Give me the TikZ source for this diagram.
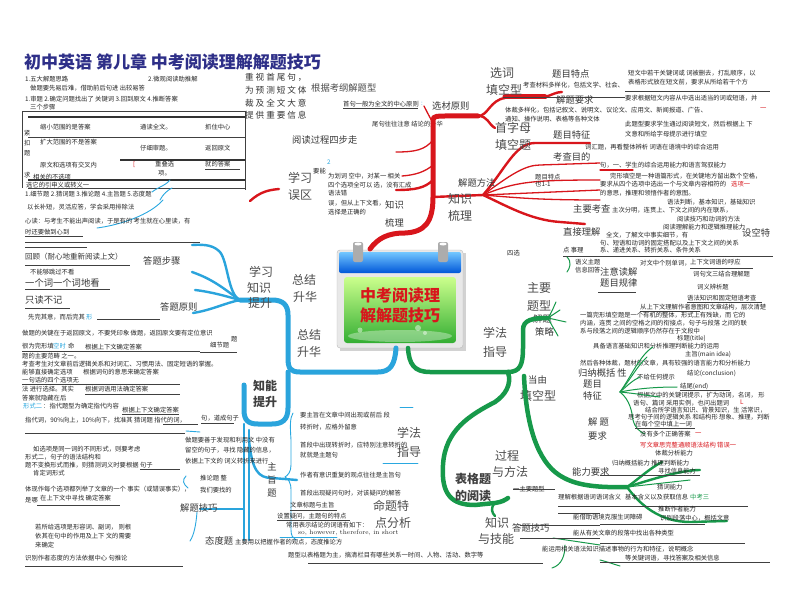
\documentclass[tikz,border=0pt]{standalone}
\usepackage{fontspec}
\newfontfamily\cjk{Noto Sans CJK SC}
\definecolor{redb}{HTML}{D8161C}
\definecolor{blueb}{HTML}{2AA4DC}
\definecolor{greenb}{HTML}{17994A}
\definecolor{navy}{HTML}{2E2F88}
\definecolor{cyant}{HTML}{2AA8E0}
\tikzset{
  every node/.style={inner sep=0pt, anchor=west},
  tx/.style={font=\cjk\fontsize{6.3}{7}\selectfont, text=black!85},
  md/.style={font=\cjk\fontsize{9.3}{11}\selectfont, text=black!78},
  lg/.style={font=\cjk\fontsize{12}{14}\selectfont, text=black!70},
  ul/.style={draw=black!75, line width=0.9pt},
  ulthick/.style={draw=black!80, line width=1.4pt},
  redtrunk/.style={draw=redb, line width=5pt, line cap=round},
  redbr/.style={draw=redb, line width=2.4pt, line cap=round},
  redthin/.style={draw=redb, line width=1.3pt, line cap=round},
  bluetrunk/.style={draw=blueb, line width=5pt, line cap=round},
  bluebr/.style={draw=blueb, line width=2.4pt, line cap=round},
  bluethin/.style={draw=cyant, line width=0.9pt, line cap=round},
  greentrunk/.style={draw=greenb, line width=4.5pt, line cap=round},
  greenbr/.style={draw=greenb, line width=2.4pt, line cap=round},
  greenthin/.style={draw=greenb, line width=1pt, line cap=round},
}
\begin{document}
\begin{tikzpicture}[x=1pt,y=-1pt]
\useasboundingbox (0,0) rectangle (800,596);
\fill[white] (0,0) rectangle (800,596);

% ---------------- title
\node[font=\cjk\bfseries\fontsize{17}{19}\selectfont, text=navy] (title) at (24,62) {初中英语 第儿章 中考阅读理解解题技巧};

% ---------------- top-left block
\node[tx] (a1) at (25,79) {1.五大解题思路};
\node[tx] (a2) at (148,79) {2.微观阅读助推解};
\node[tx] (a3) at (30,88) {做题要先易后难，借助前后句进 出较易答};
\node[tx] (a4) at (25,99) {1.审题 2.确定问题找出了 关键词 3.回到原文 4.推断答案};
\node[tx] (a5) at (30,107) {三个步骤};
\draw[ul] (22,111) -- (245,111);
\draw[ulthick] (28,117) -- (245,117);
\draw[ul] (28,137) -- (245,137);
\draw[ulthick] (120,160) -- (245,160);
\draw[ulthick] (28,180) -- (245,180);
\draw[ul] (28,188) -- (245,188);
\draw[ul] (22,111) -- (22,188);
\draw[ul] (245,111) -- (245,190);
\node[tx] (b1) at (40,127) {缩小范围的是答案};
\node[tx] (b2) at (140,127) {通读全文。};
\node[tx] (b3) at (205,127) {抓住中心};
\node[tx] (b4) at (40,142) {扩大范围的不是答案};
\node[tx] (b5) at (140,148) {仔细审题。};
\node[tx] (b6) at (205,148) {返回原文};
\node[tx] (b7) at (40,165) {原文和选项有交叉内};
\node[tx, text=redb] (b8) at (133,165) {[};
\node[tx] (b9) at (155,164) {重叠选};
\node[tx] (b10) at (158,173) {项。};
\node[tx] (b11) at (205,164) {就的答案};
\draw[ul] (205,169) -- (240,169);
\node[tx] (c1) at (24,133) {紧};
\node[tx] (c2) at (24,143) {扣};
\node[tx] (c3) at (24,153) {题};
\node[tx] (c4) at (24,175) {求};
\node[tx] (c5) at (33,177) {相关的不选项};
\node[tx] (c6) at (26,185) {选它的引申义或转义一};
\node[tx] (c7) at (25,194) {1.细节题 2.猜词题 3.推论题 4.主旨题 5.态度题};
\draw[bluethin] (152,192) .. controls (160,186) and (165,186) .. (170,180);
\draw[bluethin] (160,200) .. controls (163,194) and (168,190) .. (172,188);

% ---------------- top-centre block
\node[font=\cjk\fontsize{8.6}{10}\selectfont, text=black!80] (d1) at (245,77) {重 视 首 尾 句 ，};
\node[font=\cjk\fontsize{8.6}{10}\selectfont, text=black!80] (d2) at (245,90) {为 预 测 短 文 体};
\node[font=\cjk\fontsize{8.6}{10}\selectfont, text=black!80] (d3) at (245,103) {裁 及 全 文 大 意};
\node[font=\cjk\fontsize{8.6}{10}\selectfont, text=black!80] (d4) at (245,115) {提 供 重 要 信 息};
\node[md, text=black!70] (d5) at (311,88) {根据考纲解题型};
\node[tx] (d6) at (343,104) {首句一般为全文的中心原则};
\draw[ul] (343,108) -- (418,108);
\node[tx, text=cyant] (d6b) at (421,104) {:};
\node[tx] (d7) at (372,124) {尾句往往注意 结论的升华};
\node[md] (d8) at (292,140) {阅读过程四步走};
\node[tx, text=cyant] (d9) at (327,162) {2};
\node[lg] (d10) at (288,178) {学习};
\node[lg] (d11) at (288,195) {误区};
\node[tx] (d12) at (313,171) {要能};
\node[tx] (d13) at (328,176) {为划词 空中，对某一 相关};
\node[tx] (d14) at (328,185) {四个选项全可以 选，没有汇成};
\node[tx] (d15) at (328,193) {语法错};
\node[tx] (d16) at (328,203) {误，但从上下文看，};
\node[tx] (d17) at (328,212) {选择是正确的};

% ---------------- calendar (centre)
\fill[gray!35] (340,253) rectangle (466,351);
\fill[gray!18, draw=gray!55, rounded corners=3pt] (337,250) rectangle (463,348);
\shade[top color=cyan!60!blue!55, bottom color=blue!60!cyan!85!black, rounded corners=2pt] (339,252) rectangle (461,273);
\shade[top color=yellow!55!green!45, bottom color=green!60!black!80, rounded corners=3pt] (344,277) rectangle (456,343);
\fill[white, opacity=0.35] (400,336) ellipse (52 and 6);
\fill[white, opacity=0.45] (418,328) circle (3);
\fill[white, opacity=0.45] (425,333) circle (2);
\fill[white, opacity=0.45] (360,330) circle (2.5);
\fill[gray!65, rounded corners=2pt] (353,242) rectangle (363,262);
\fill[gray!65, rounded corners=2pt] (438,242) rectangle (448,262);
\fill[white] (358,244) ellipse (3.5 and 1.5);
\fill[white] (443,244) ellipse (3.5 and 1.5);
\node[anchor=center, font=\cjk\bfseries\fontsize{16}{18}\selectfont, text=redb] (cal1) at (400,295) {中考阅读理};
\node[anchor=center, font=\cjk\bfseries\fontsize{16}{18}\selectfont, text=redb] (cal2) at (400,315) {解解题技巧};
\coordinate (calTop) at (370,249);
\coordinate (calBL) at (396,348);
\coordinate (calBR) at (408,348);

% ---------------- red branch
\coordinate (rJ) at (433,197);
\coordinate (rTop) at (433,120);
\coordinate (rFan) at (483,195);
\draw[redtrunk] (calTop) .. controls (378,238) and (388,233) .. (405,233) .. controls (425,232) and (433,222) .. (rJ) -- (rTop) .. controls (433,116) and (438,116) .. (445,116) -- (478,116);
\draw[redbr] (478,116) .. controls (488,116) and (490,100) .. (505,98);
\draw[redtrunk] (505,97) -- (545,97);
\draw[redbr] (545,97) .. controls (552,95) and (556,92) .. (562,92);
\draw[redbr] (478,116) .. controls (488,116) and (488,124) .. (495,128);
\draw[redbr] (rJ) -- (rFan);
\draw[redbr] (rFan) .. controls (505,170) and (515,143) .. (535,143) -- (590,143);
\draw[redthin] (rFan) .. controls (510,175) and (525,165) .. (540,165) -- (600,163);
\draw[redthin] (rFan) .. controls (515,182) and (530,180) .. (600,180);
\draw[redthin] (rFan) -- (600,190);
\draw[redthin] (rFan) .. controls (520,198) and (540,200) .. (600,200);
\draw[redbr] (rFan) .. controls (505,205) and (530,220) .. (560,222) -- (585,224);
\draw[redthin] (433,140) .. controls (425,150) and (415,152) .. (396,152);
\draw[redthin] (433,165) .. controls (425,172) and (415,175) .. (402,176);
\draw[redbr] (433,180) .. controls (425,188) and (415,190) .. (396,190);
\draw[redthin] (433,123) .. controls (428,114) and (426,110) .. (424,106);
\draw[redbr] (250,201) .. controls (260,192) and (268,190) .. (279,189);
\draw[redthin] (600,170) -- (633,170);
\node[md] (r1) at (385,205) {知识};
\node[md] (r2) at (385,223) {梳理};
\node[lg] (r3) at (448,199) {知识};
\node[lg] (r4) at (448,216) {梳理};
\node[md] (r5) at (458,183) {解题方法};
\node[lg] (r6) at (490,73) {选词};
\node[lg] (r7) at (486,90) {填空型};
\node[md] (r8) at (552,74) {题目特点};
\node[tx] (r9) at (523,85) {考查材料多样化，包括文学、社会、};
\node[tx] (r10) at (628,73) {短文中若干关键词或 词被删去，打乱顺序，以};
\node[tx] (r11) at (628,82) {表格形式放在短文前，要求从所给若干个方};
\draw[ul] (503,97) -- (625,97);
\draw[ul] (625,91) -- (770,91);
\node[md] (r12) at (556,100) {解题要求};
\node[tx] (r13) at (625,98) {要求根据短文内容从中选出适当的词或短语，并};
\node[tx, text=redb] (r14) at (760,109) {一};
\node[tx] (r15) at (505,110) {体裁多样化，包括记叙文、说明文、议论文、应用文、新闻报道、广告、};
\node[tx] (r16) at (505,119) {通知、操作说明、表格等各种文体};
\node[md] (r17) at (432,106) {选材原则};
\node[lg] (r18) at (495,128) {首字母};
\node[lg] (r19) at (495,145) {填空题};
\node[tx] (r20) at (625,124) {此题型要求学生通过阅读短文，然后根据上 下};
\node[tx] (r21) at (625,134) {文意和所给字母提示进行填空};
\node[md] (r22) at (553,135) {题目特征};
\node[md] (r23) at (553,157) {考查目的};
\node[tx] (r24) at (585,147) {词汇题，再看整体辨析 词语在语境中的综合运用};
\node[tx] (r25) at (600,165) {句，一、学生的综合运用能力和语言驾驭能力};
\node[tx] (r26) at (535,177) {题目特点};
\node[tx] (r27) at (535,184) {也1-1};
\node[tx] (r28) at (610,176) {完形填空是一种语篇形式，在关键地方留出数个空格，};
\node[tx] (r29) at (600,184) {要求从四个选项中选出一个与文章内容相符的};
\node[tx, text=redb] (r30) at (731,184) {选项一};
\node[tx] (r31) at (600,193) {的意思，推理和领悟作者的意图。};
\node[md] (r32) at (573,209) {主要考查};
\node[tx] (r33) at (667,202) {语法判断，基本知识，基础知识};
\node[tx] (r34) at (612,210) {主次分明，连贯上、下文之间的内在联系，};
\node[tx] (r35) at (677,219) {阅读技巧和动词的方法};
\node[tx] (r36) at (663,227) {阅读理解能力和逻辑推理能力};
\node[md] (r37) at (563,232) {直接理解};
\node[tx] (r38) at (606,235) {全文，了解文中事实细节，有};
\node[tx] (r39) at (600,243) {句、短语和动词的固定搭配以及上下文之间的关系};
\node[md] (r40) at (742,233) {设空特};
\node[tx] (r41) at (563,250) {点 事理};
\node[tx] (r42) at (600,250) {系、递进关系、转折关系、条件关系};
\draw[ul] (563,256) -- (773,256);

% ---------------- middle right (green area labels)
\node[tx] (m1) at (507,253) {四选};
\node[tx] (m2) at (575,262) {语义主题};
\node[tx] (m3) at (575,270) {信息回答};
\node[md] (m4) at (600,272) {注意读解};
\node[tx] (m5) at (640,263) {对文中个别单词，};
\node[tx] (m6) at (690,262) {上下文词语的呼应};
\draw[ul] (690,268) -- (753,268);
\node[tx] (m7) at (693,274) {词句文三结合理解题};
\node[md] (m8) at (600,283) {题目规律};
\draw[ul] (598,292) -- (636,292);
\node[tx] (m9) at (697,287) {词义辨析题};
\node[tx] (m10) at (687,298) {语法知识和固定短语考查};
\draw[ul] (687,302) -- (762,302);
\node[tx] (m11) at (640,307) {从上下文理解作者意图和文章结构，层次清楚};
\draw[ul] (640,311) -- (700,311);
\node[lg] (m12) at (527,288) {主要};
\node[lg] (m13) at (527,306) {题型};
\node[md] (m14) at (533,319) {解题};
\node[md] (m15) at (535,332) {策略};
\node[tx] (m16) at (580,315) {一篇完形填空题是一个有机的整体，形式上有残缺，而 它的};
\node[tx] (m17) at (580,323) {内涵，连贯 之间的空格之间的衔接点，句子与段落 之间的联};
\node[tx] (m18) at (580,331) {系与段落之间的逻辑顺序仍然存在于文段中};
\node[tx] (m19) at (677,338) {标题(title)};
\node[tx] (m20) at (593,346) {具备语言基础知识和分析推理判断能力的运用};
\node[tx] (m21) at (685,354) {主旨(main idea)};
\node[tx] (m22) at (580,363) {然后各种体裁，题材的文章，具有较强的语言能力和分析能力};
\node[md] (m23) at (578,373) {归纳概括 性};
\node[md] (m24) at (583,384) {题目};
\node[md] (m25) at (583,396) {特征};
\node[tx] (m26) at (687,373) {结论(conclusion)};
\node[tx] (m27) at (637,377) {不给任何提示};
\node[tx] (m28) at (680,386) {结尾(end)};
\draw[ul] (680,390) -- (730,390);
\node[tx] (m29) at (637,395) {根据文中的关键词提示，扩为动词，名词， 形};
\node[lg] (m30) at (483,333) {学法};
\node[lg] (m31) at (483,352) {指导};
\node[md] (m32) at (528,380) {当由};
\node[lg] (m33) at (520,396) {填空型};

% ---------------- green branch
\coordinate (gJ) at (508,372);
\coordinate (gFan) at (548,318);
\coordinate (gFan2) at (620,392);
\coordinate (gFan3) at (627,487);
\draw[greentrunk] (calBR) .. controls (409,364) and (414,372) .. (430,372) -- (gJ);
\draw[greentrunk] (gJ) .. controls (520,372) and (523,365) .. (523,348) -- (523,330) .. controls (523,320) and (532,318) .. (gFan);
\draw[greenthin] (gFan) -- (560,310);
\draw[greenthin] (gFan) -- (566,322);
\draw[greenthin] (gFan) .. controls (552,326) and (556,332) .. (558,336);
\draw[greenthin] (gFan) .. controls (552,312) and (554,306) .. (556,302);
\draw[greentrunk] (gJ) .. controls (512,385) and (505,395) .. (495,402) .. controls (470,415) and (445,430) .. (443,465) .. controls (441,495) and (452,505) .. (475,505) -- (495,503) .. controls (502,502) and (505,500) .. (508,498);
\draw[greenbr] (495,503) .. controls (490,508) and (492,513) .. (495,516);
\draw[greentrunk] (524,376) .. controls (526,420) and (535,455) .. (555,472) .. controls (570,484) and (590,488) .. (gFan3);
\draw[greenbr] (gFan3) .. controls (640,478) and (650,468) .. (662,462);
\draw[greenbr] (gFan3) .. controls (650,480) and (680,470) .. (700,470);
\draw[greenbr] (gFan3) .. controls (640,505) and (660,522) .. (690,522) -- (727,521);
\draw[greenthin] (gFan3) -- (690,480);
\draw[greenthin] (gFan2) .. controls (632,375) and (640,355) .. (653,347);
\draw[greenthin] (gFan2) .. controls (630,380) and (638,365) .. (647,357);
\draw[greenthin] (gFan2) .. controls (628,385) and (633,380) .. (640,377);
\draw[greenthin] (gFan2) .. controls (640,388) and (660,387) .. (677,387);
\draw[greenthin] (gFan2) .. controls (640,394) and (650,396) .. (660,397);
\draw[greenthin] (gFan2) .. controls (630,400) and (632,412) .. (633,420) .. controls (635,428) and (640,432) .. (645,434);
\draw[greenthin] (553,538) -- (600,545);
\draw[greenthin] (565,545) .. controls (565,555) and (562,565) .. (552,568);
\draw[greenthin] (600,560) .. controls (608,562) and (613,564) .. (620,566);
\draw[greenthin] (567,257) .. controls (572,262) and (570,268) .. (567,272);

% ---------------- bottom right
\node[md] (g1) at (588,422) {解 题};
\node[md] (g2) at (588,436) {要求};
\node[tx] (g3) at (633,403) {语句、篇词 采用实例，也问出题词};
\node[tx, text=redb] (g3b) at (740,402) {L};
\node[tx] (g4) at (645,410) {结合所学语言知识、背景知识，生 活常识，};
\node[tx] (g5) at (628,417) {思考句子间的逻辑关系 和结构形 想象、推理，判断};
\node[tx] (g6) at (635,424) {在每个空中填上一词};
\draw[ul] (635,428) -- (695,428);
\node[tx] (g7) at (640,434) {没有多个正确答案};
\node[tx, text=redb] (g7b) at (695,434) {一};
\node[tx, text=redb] (g8) at (640,445) {写文章思完整通顺语法结构 错误一};
\node[tx] (g9) at (655,453) {体裁分析能力};
\node[md] (g10) at (572,472) {能力要求};
\node[tx] (g11) at (612,463) {归纳概括能力 推理判断能力};
\node[tx] (g12) at (658,471) {寻找信息能力};
\draw[ul] (600,475) -- (700,475);
\node[tx] (g13) at (657,487) {猜词能力};
\node[tx] (g14) at (558,497) {理解根据语词语词含义};
\node[tx] (g15) at (625,497) {基本含义以及获取信息};
\node[tx, text=greenb] (g15b) at (690,497) {中考三};
\draw[ul] (558,506) -- (748,506);
\node[tx] (g16) at (658,509) {推断作者能力};
\node[tx] (g17) at (573,517) {能借助语境克服生词障碍};
\node[tx] (g18) at (660,518) {识别段落中心，概括文意};
\draw[ul] (600,524) -- (705,524);
\node[tx] (g19) at (573,533) {能从有关文章的段落中找出各种类型};
\draw[ul] (600,543) -- (745,543);
\node[tx] (g21) at (542,549) {能运用相关语法知识描述事物的行为和特征，说明概念};
\node[tx] (g22) at (625,558) {等关键词语，寻找答案及相关信息};
\draw[ul] (600,562) -- (770,562);
\node[lg] (g23) at (495,456) {过程};
\node[lg] (g24) at (492,472) {与方法};
\node[font=\cjk\bfseries\fontsize{12}{14}\selectfont, text=black!75] (g25) at (455,479) {表格题};
\node[font=\cjk\bfseries\fontsize{12}{14}\selectfont, text=black!75] (g26) at (455,496) {的阅读};
\node[tx] (g27) at (513,489) {一主要题型};
\draw[ul] (513,489) -- (555,489);
\node[lg] (g28) at (485,523) {知识};
\node[lg] (g29) at (478,539) {与技能};
\node[md] (g30) at (512,528) {答题技巧};
\draw[ul] (558,513) -- (600,513);
\draw[ul] (520,525) -- (600,525);
\draw[ul] (520,538) -- (600,538);

% ---------------- blue branch
\coordinate (bJ) at (288,372);
\coordinate (bFan) at (240,300);
\draw[bluetrunk] (calBL) .. controls (395,365) and (390,372) .. (378,372) -- (300,372) .. controls (290,372) and (288,368) .. (288,358) -- (288,315) .. controls (288,305) and (283,300) .. (272,300) -- (bFan);
\draw[bluebr] (bFan) .. controls (228,295) and (228,262) .. (220,252) .. controls (214,246) and (207,244) .. (192,245);
\draw[bluebr] (bFan) .. controls (225,290) and (215,280) .. (192,272);
\draw[bluebr] (bFan) .. controls (225,296) and (212,292) .. (195,290);
\draw[bluebr] (bFan) .. controls (225,303) and (212,310) .. (193,313);
\draw[bluetrunk] (bJ) -- (288,408) .. controls (288,420) and (282,424) .. (272,424) -- (258,424) .. controls (248,424) and (244,420) .. (244,410) -- (244,385);
\draw[bluebr] (244,424) -- (244,540);
\draw[bluebr] (249,430) -- (249,540);
\draw[bluebr] (200,509) -- (244,509);
\draw[bluebr] (249,440) .. controls (252,470) and (258,478) .. (272,478) -- (297,480);
\draw[bluethin] (293,413) .. controls (290,418) and (290,425) .. (291,440) -- (291,465) .. controls (291,472) and (288,475) .. (285,477) .. controls (288,479) and (291,482) .. (291,490) -- (291,530) .. controls (291,536) and (293,538) .. (296,540);
\draw[bluethin] (97,228) .. controls (120,225) and (150,215) .. (163,200);
\draw[bluethin] (186,431) -- (200,432);
\draw[bluethin] (186,476) .. controls (182,480) and (183,484) .. (188,488);
\draw[bluethin] (197,512) .. controls (196,525) and (194,535) .. (190,541);
\draw[bluethin] (383,463) -- (418,463);
\draw[bluethin] (400,407) -- (413,407);
\draw[bluethin] (280,537) -- (337,537);

\node[lg] (e1) at (249,272) {学习};
\node[lg] (e2) at (247,288) {知识};
\node[lg] (e3) at (248,303) {提升};
\node[lg] (e4) at (292,280) {总结};
\node[lg] (e5) at (293,297) {升华};
\node[lg] (e6) at (297,335) {总结};
\node[lg] (e7) at (297,352) {升华};
\node[font=\cjk\bfseries\fontsize{12}{14}\selectfont, text=black!75] (e8) at (253,386) {知能};
\node[font=\cjk\bfseries\fontsize{12}{14}\selectfont, text=black!75] (e9) at (253,402) {提升};
\node[lg] (e10) at (397,433) {学法};
\node[lg] (e11) at (397,452) {指导};
\node[lg] (e12) at (373,506) {命题特};
\node[lg] (e13) at (375,523) {点分析};
\node[md, anchor=center] (e14) at (272,467) {主};
\node[md, anchor=center] (e15) at (272,480) {旨};
\node[md, anchor=center] (e16) at (272,493) {题};

% left blue texts
\node[tx] (f1) at (27,207) {以长补短，灵活应答，学会采用排除法};
\node[tx] (f2) at (25,221) {心读：与考生不能出声阅读，于是有的 考生就在心里读，有};
\node[tx] (f3) at (25,232) {时还要做到心到};
\draw[ul] (25,236) -- (83,236);
\draw[ul] (25,242) -- (200,242);
\draw[ul] (25,247) -- (87,247);
\node[font=\cjk\fontsize{7.5}{9}\selectfont, text=black!80] (f4) at (25,257) {回顾（耐心地重新阅读上文）};
\draw[ul] (25,265) -- (130,265);
\node[md] (f5) at (143,261) {答题步骤};
\node[tx] (f6) at (30,272) {不能够跳过不看};
\node[md] (f7) at (25,283) {一个词一个词地看};
\draw[ul] (25,289) -- (110,289);
\node[md] (f8) at (25,300) {只读不记};
\draw[ul] (25,308) -- (70,308);
\node[md] (f9) at (160,307) {答题原则};
\node[tx] (f10) at (28,317) {先完其意，而后完其};
\node[tx, text=cyant] (f10b) at (86,317) {形};
\draw[ul] (97,319) -- (160,319);
\node[tx] (f11) at (22,333) {做题的关键在于返回原文，不要凭印象 做题，返回原文要有定位意识};
\node[tx] (f12) at (210,345) {细节题};
\node[tx] (f12b) at (231,339) {题};
\draw[ul] (200,352) -- (237,352);
\node[tx] (f13) at (22,346) {很为完形填};
\node[tx, text=cyant] (f13b) at (53,346) {空时};
\node[tx] (f13c) at (68,346) {命};
\node[tx] (f14) at (85,347) {根据上下文确定答案};
\draw[ul] (22,351) -- (200,351);
\node[tx] (f15) at (22,356) {题的主要范畴 之一。};
\node[tx] (f16) at (22,364) {考查考生对文章前后逻辑关系和对词汇、习惯用法、固定短语的掌握。};
\node[tx] (f17) at (83,372) {根据词句的意思来确定答案};
\node[tx] (f18) at (22,372) {能够直接确定选项};
\node[tx] (f19) at (22,380) {一句话的四个选项无};
\draw[ul] (22,384) -- (180,384);
\node[tx] (f20) at (22,389) {法 进行选择。其实};
\node[tx] (f21) at (85,389) {根据词语用法确定答案};
\draw[ul] (85,394) -- (180,394);
\node[tx] (f22) at (22,398) {答案就隐藏在后};
\node[tx, text=cyant] (f23) at (23,406) {形式二};
\node[tx] (f23b) at (43,406) {：指代题型为确定指代内容};
\node[tx] (f24) at (122,410) {根据上下文确定答案};
\draw[ul] (122,414) -- (179,414);
\node[tx] (f25) at (25,420) {指代词，90\%向上，10\%向下，找准其 猜词题 指代的词，};
\draw[ul] (163,424) -- (198,424);
\draw[ul] (25,433) -- (185,433);
\node[tx] (f26) at (33,449) {如选项是同一词的不同形式，则要考虑};
\node[tx] (f27) at (25,457) {形式二，句子的语法结构和};
\node[tx] (f28) at (25,465) {题不变换形式而推，则猜测词义时要根据 句子};
\draw[ul] (140,469) -- (180,469);
\node[tx] (f29) at (33,473) {肯定词形式};
\node[tx] (f30) at (25,489) {体现作每个选项都列举了文章的一个 事实（或错误事实），};
\node[tx] (f31) at (25,500) {是哪};
\node[tx] (f32) at (40,498) {在上下文中寻找 确定答案};
\draw[ul] (37,505) -- (120,505);
\node[tx] (f33) at (35,527) {若所给选项是形容词、副词， 则根};
\node[tx] (f34) at (35,536) {依其在句中的作用及上下 文的需要};
\node[tx] (f35) at (35,545) {来确定};
\node[tx] (f36) at (25,558) {识别作者态度的方法依据中心 句推论};
\draw[ul] (25,566) -- (183,566);

% centre-bottom texts
\node[tx] (h1) at (201,418) {句，道成句子};
\draw[ul] (201,423) -- (234,423);
\node[tx] (h2) at (185,440) {做题要善于发现和利用文 中没有};
\node[tx] (h3) at (185,450) {留空的句子，寻找 隐藏的信息，};
\node[tx] (h4) at (185,461) {依据上下文的 词义转折来进行};
\node[tx] (h5) at (200,478) {推论题 整};
\node[tx] (h6) at (200,490) {我们要找的};
\node[md] (h7) at (180,508) {解题技巧};
\node[md] (h8) at (205,541) {态度题};
\node[tx] (h9) at (235,542) {主要用以把握作者的观点，态度推论方};
\node[tx] (h10) at (300,415) {要主旨在文章中间出现或前后 段};
\node[tx] (h11) at (300,427) {转折时，应格外留意};
\node[tx] (h12) at (300,445) {首段中出现转折时，应特别注意转折的};
\node[tx] (h13) at (300,455) {就就是主题句};
\node[tx] (h14) at (300,475) {作者有意识重复的观点往往是主旨句};
\node[tx] (h15) at (300,493) {首段出现疑问句时，对该疑问的解答};
\node[tx] (h16) at (290,505) {文章标题与主旨};
\draw[ul] (290,510) -- (337,510);
\node[tx] (h17) at (277,516) {设置疑问，主题句的特点};
\draw[ul] (277,520) -- (350,520);
\node[tx] (h18) at (286,525) {常用表示结论的词语有如下：};
\node[font=\fontsize{6.5}{7}\selectfont, text=black!85] (h19) at (298,533) {so, however, therefore, in short};
\node[tx] (h20) at (288,555) {题型以表格题为主，搞清栏目有哪些关系一时间、人物、活动、数字等};
\draw[ul] (308,563) -- (543,563);

\end{tikzpicture}
\end{document}
